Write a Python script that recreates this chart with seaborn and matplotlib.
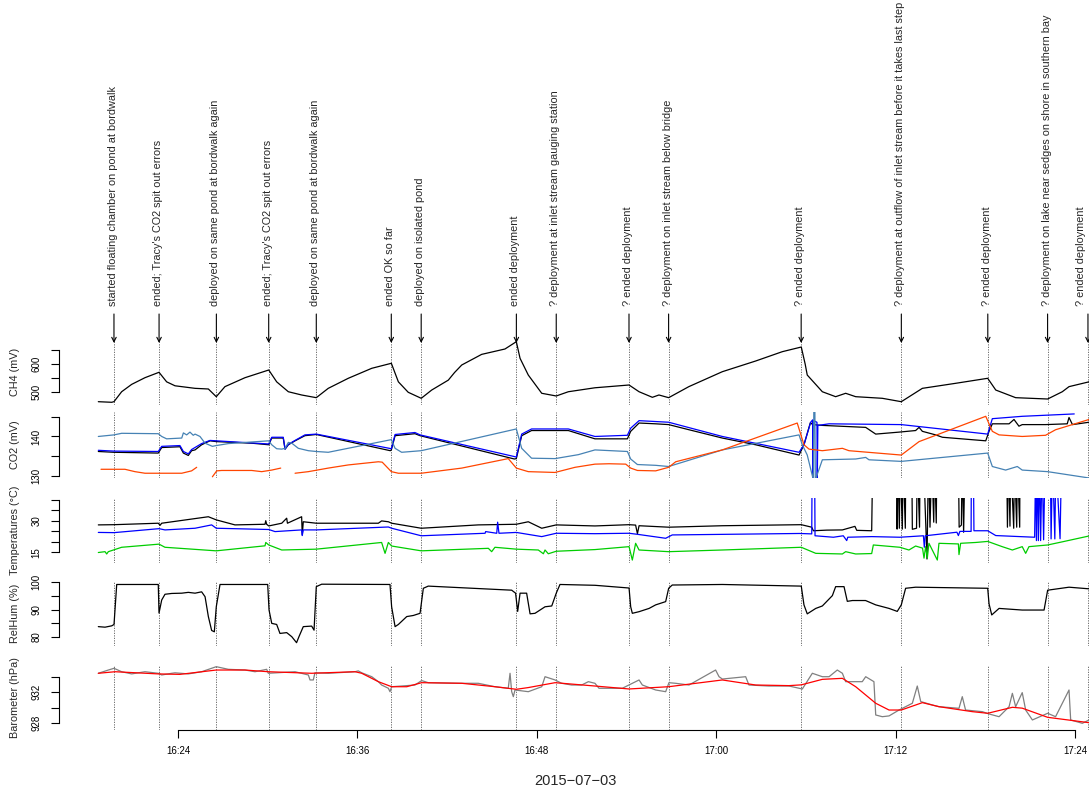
import numpy as np
import pandas as pd
import seaborn as sns
import matplotlib.pyplot as plt
import matplotlib.dates as mdates

nan = float('nan')
day = pd.Timestamp('2015-07-03 16:00:00')

# readings as (minutes after 16:00, value)
ch4 = [(18.67, 466.8), (19.57, 464.7), (19.72, 467.0), (20.23, 502.0), (20.90, 528.0),
       (21.79, 551.6), (22.73, 570.7), (23.24, 537.0), (23.80, 523.0), (25.14, 514.0),
       (26.03, 511.7), (26.56, 484.5), (27.14, 520.0), (28.48, 551.6), (30.07, 578.8),
       (30.60, 537.0), (31.38, 502.0), (32.27, 490.5), (33.25, 481.0), (34.05, 514.0),
       (35.39, 549.5), (36.96, 584.8), (38.27, 602.5), (38.74, 537.0), (39.40, 500.0),
       (40.27, 478.8), (40.97, 508.0), (42.08, 543.0), (42.50, 570.0), (42.98, 596.5),
       (44.31, 634.0), (45.87, 653.0), (46.63, 678.8), (46.88, 620.0), (47.43, 561.0),
       (48.33, 496.5), (49.30, 487.0), (50.11, 502.0), (51.89, 516.0), (54.17, 525.8),
       (54.84, 502.0), (55.73, 482.3), (56.17, 490.5), (56.82, 481.0), (58.17, 520.0),
       (60.41, 572.8), (62.64, 610.6), (64.42, 643.5), (65.69, 660.0), (65.95, 600.0),
       (66.09, 561.0), (67.10, 502.0), (67.99, 484.5), (68.66, 496.5), (69.33, 484.5),
       (71.11, 478.8), (72.38, 466.8), (73.79, 514.0), (76.02, 531.8), (78.16, 549.5),
       (78.70, 508.0), (80.03, 481.0), (82.17, 476.3), (83.15, 502.0), (83.60, 520.0),
       (84.94, 537.0)]

co2_black = [(18.67, 136.2), (19.72, 136.0), (22.68, 135.8), (22.91, 137.2), (24.13, 137.4),
             (24.36, 135.8), (24.69, 135.2), (24.91, 136.4), (25.14, 136.6), (25.58, 137.9),
             (26.14, 138.9), (26.56, 138.7), (28.93, 138.3), (30.07, 137.9), (30.27, 139.6),
             (31.04, 139.6), (31.16, 136.8), (31.38, 137.9), (31.83, 138.9), (32.49, 140.2),
             (33.25, 140.5), (38.20, 136.4), (38.27, 136.6), (38.52, 140.2), (39.85, 140.7),
             (40.19, 140.2), (46.50, 134.3), (46.63, 134.4), (46.99, 140.2), (47.65, 141.5),
             (50.11, 141.5), (51.89, 139.4), (54.06, 139.4), (54.28, 141.3), (54.84, 143.4),
             (55.95, 143.2), (56.82, 143.0), (58.18, 141.7), (60.41, 139.6), (62.64, 137.9),
             (65.54, 135.3), (65.87, 137.9), (66.30, 143.5), (66.45, 143.0), (67.10, 142.8),
             (70.00, 142.3), (70.67, 140.6), (72.23, 141.1), (73.34, 141.5), (73.57, 142.3),
             (73.79, 141.3), (74.68, 140.4), (75.13, 139.8), (78.03, 138.9), (78.25, 141.3),
             (78.47, 143.2), (79.59, 143.2), (79.92, 144.3), (80.25, 142.6), (80.47, 143.0),
             (82.03, 143.0), (83.48, 143.2), (83.60, 144.8), (83.83, 143.0), (84.94, 143.6)]

co2_blue = [(18.67, 136.5), (19.72, 136.3), (22.68, 136.2), (22.91, 137.5), (24.13, 137.7),
            (24.36, 136.2), (24.69, 135.6), (24.91, 136.7), (25.58, 138.2), (26.14, 139.0),
            (26.56, 138.9), (30.07, 138.1), (30.27, 139.8), (31.04, 139.8), (31.16, 136.8),
            (31.38, 138.0), (31.83, 139.0), (32.49, 140.4), (33.25, 140.6), (38.27, 136.9),
            (38.52, 140.5), (39.85, 141.0), (40.19, 140.4), (46.63, 134.8), (46.99, 140.6),
            (47.65, 141.9), (50.11, 141.9), (51.89, 140.0), (54.06, 140.3), (54.28, 142.1),
            (54.84, 144.0), (56.82, 143.6), (60.41, 140.0), (65.54, 136.0), (65.87, 137.9),
            (66.32, 143.6), (66.45, 144.2), (66.47, 129.0), (66.50, 144.0), (66.74, 143.6),
            (66.76, 129.0), (66.80, 142.8), (67.55, 143.2), (72.38, 143.0), (78.16, 140.6),
            (78.47, 144.5), (80.47, 145.1), (83.95, 145.7)]

co2_steelblue = [(18.67, 140.0), (19.72, 140.4), (20.23, 140.8), (22.68, 140.7), (22.91, 140.0),
                 (23.24, 139.4), (24.25, 139.6), (24.36, 140.9), (24.58, 140.4), (24.80, 141.1),
                 (25.02, 140.3), (25.14, 140.6), (25.47, 140.0), (25.81, 138.3), (26.30, 137.5),
                 (26.56, 137.7), (27.37, 138.2), (30.07, 138.9), (30.27, 137.9), (30.60, 136.9),
                 (30.94, 136.8), (31.16, 137.0), (31.38, 138.5), (31.61, 138.3), (32.05, 137.0),
                 (32.72, 136.4), (33.25, 136.2), (34.05, 136.0), (38.27, 139.2), (38.52, 137.0),
                 (38.96, 136.0), (40.27, 136.4), (46.63, 141.9), (46.99, 137.0), (47.65, 134.5),
                 (49.22, 134.4), (50.78, 135.4), (51.89, 136.6), (54.06, 136.2), (54.28, 134.3),
                 (54.73, 132.9), (55.95, 132.7), (56.82, 132.4), (60.41, 136.6), (65.54, 140.4),
                 (65.76, 137.9), (66.09, 135.3), (66.50, 129.0), (66.53, 147.0), (66.60, 147.0),
                 (66.63, 129.0), (67.10, 134.1), (69.33, 134.3), (70.00, 134.7), (70.22, 134.1),
                 (72.38, 133.7), (78.16, 135.8), (78.47, 132.4), (79.36, 131.5), (80.14, 132.4),
                 (80.47, 131.5), (82.17, 131.1), (84.94, 129.5)]

co2_orange = [(18.85, 131.7), (20.45, 131.7), (21.12, 131.1), (21.79, 130.7), (24.25, 130.7),
              (24.91, 131.3), (25.25, 132.2), (nan, nan),
              (26.30, 129.8), (26.59, 131.3), (26.92, 131.4), (28.93, 131.4), (29.60, 131.1),
              (30.27, 131.5), (30.87, 132.0), (nan, nan),
              (31.83, 130.7), (32.72, 131.1), (34.05, 132.0), (35.39, 132.8), (37.40, 133.6),
              (37.66, 133.5), (38.27, 131.1), (38.74, 130.7), (40.27, 130.7), (42.98, 132.0),
              (46.09, 134.4), (46.63, 132.0), (47.43, 131.1), (49.22, 130.9), (50.56, 132.2),
              (51.89, 133.0), (52.83, 133.1), (53.95, 133.0), (54.28, 132.0), (54.73, 131.4),
              (55.95, 131.3), (56.82, 132.2), (57.29, 133.6), (60.41, 136.6), (65.42, 143.4),
              (65.87, 137.9), (66.21, 136.8), (67.10, 136.4), (68.44, 137.0), (68.88, 136.4),
              (72.38, 135.3), (73.57, 138.7), (78.03, 145.1), (78.47, 141.3), (78.92, 140.4),
              (80.47, 140.0), (82.03, 140.3), (82.70, 141.7), (84.94, 144.3)]

# 60 = sensor off the top of the scale
temp_black = [(18.67, 28.1), (19.72, 28.2), (22.68, 28.9), (22.80, 27.9), (22.91, 28.9),
              (26.03, 32.0), (26.56, 30.5), (27.81, 28.1), (29.82, 28.4), (29.87, 30.1),
              (29.93, 28.4), (30.07, 27.6), (30.94, 28.9), (31.27, 31.3), (31.32, 28.9),
              (32.27, 32.0), (32.31, 23.3), (32.38, 29.6), (33.25, 28.9), (37.40, 28.9),
              (37.62, 30.0), (38.07, 29.6), (38.29, 28.9), (40.27, 26.5), (44.09, 28.1),
              (46.63, 28.4), (47.43, 29.6), (48.33, 26.5), (49.30, 28.1), (51.89, 27.6),
              (54.17, 28.2), (54.61, 28.0), (54.73, 23.9), (54.84, 27.7), (56.82, 27.0),
              (60.41, 27.7), (65.69, 28.2), (66.39, 27.0), (66.50, 25.3), (67.39, 25.6),
              (68.44, 25.7), (69.28, 27.4), (69.40, 25.5), (70.40, 25.3), (70.47, 60),
              (72.07, 60), (72.10, 26.1), (72.15, 60), (72.25, 26.5), (72.30, 60),
              (72.45, 26.1), (72.50, 60), (72.65, 26.5), (72.68, 60),
              (73.08, 60), (73.12, 26.0), (73.40, 26.5), (73.45, 60), (73.60, 27.0), (73.64, 60),
              (73.86, 60), (74.10, 11.8), (74.20, 60), (74.30, 27.0), (74.42, 60),
              (74.55, 29.4), (74.60, 60), (74.72, 29.0), (74.76, 60),
              (76.20, 60), (76.25, 27.0), (76.40, 28.0), (76.45, 60), (76.55, 24.6), (76.64, 60),
              (79.43, 60), (79.48, 27.0), (79.55, 60), (79.65, 27.5), (79.70, 60),
              (79.90, 26.5), (79.95, 60), (80.10, 27.0), (80.15, 60), (80.30, 27.0),
              (80.32, 60), (84.94, 60)]

temp_blue = [(18.67, 24.5), (19.72, 24.4), (22.73, 26.3), (23.13, 25.7), (25.14, 26.5),
             (26.25, 28.1), (26.56, 26.5), (30.07, 25.9), (30.49, 24.9), (32.27, 25.7),
             (32.31, 23.0), (32.38, 25.7), (33.25, 25.7), (38.07, 27.1), (38.29, 26.5),
             (40.27, 22.9), (44.54, 24.1), (44.58, 24.9), (45.32, 24.1), (45.38, 29.4),
             (45.47, 24.1), (46.63, 24.5), (48.33, 22.5), (49.30, 24.1), (51.89, 23.9),
             (54.17, 24.1), (54.73, 23.6), (56.62, 21.7), (57.06, 23.3), (65.58, 24.0),
             (66.39, 23.8), (66.42, 60), (66.58, 60), (66.61, 22.9), (67.84, 22.2),
             (68.50, 22.9), (68.73, 20.6), (68.80, 22.2), (70.40, 22.5), (72.29, 22.2),
             (73.86, 22.9), (73.92, 17.4), (73.98, 22.9), (76.10, 24.6), (76.20, 23.0),
             (76.30, 25.0), (77.05, 25.0), (77.07, 60), (77.20, 60), (77.24, 25.3),
             (78.16, 25.3), (78.70, 23.0), (81.30, 22.2), (81.37, 60), (81.42, 20.6),
             (81.48, 60), (81.55, 20.6), (81.62, 60), (81.70, 20.6), (81.80, 60),
             (81.90, 21.0), (82.00, 60), (82.35, 60), (82.40, 21.4), (82.50, 60),
             (82.65, 21.4), (82.72, 60), (83.00, 21.5), (83.10, 60)]

temp_green = [(18.67, 14.9), (19.12, 15.3), (19.23, 14.2), (19.34, 15.3), (20.23, 17.4),
              (22.73, 18.9), (23.13, 17.4), (26.56, 15.7), (29.82, 18.1), (29.87, 19.7),
              (30.07, 18.5), (30.94, 16.1), (33.25, 16.5), (37.62, 19.7), (37.85, 14.5),
              (38.07, 19.7), (38.29, 18.0), (40.27, 15.7), (44.76, 16.9), (44.98, 15.3),
              (45.20, 17.4), (46.63, 16.5), (48.10, 16.1), (48.44, 14.3), (48.55, 16.1),
              (48.77, 14.3), (49.30, 15.5), (51.89, 16.3), (54.17, 17.7), (54.39, 11.3),
              (54.61, 19.3), (54.84, 16.1), (56.82, 15.3), (60.41, 16.1), (65.69, 17.4),
              (66.66, 14.5), (68.44, 14.2), (68.66, 15.3), (69.33, 14.2), (70.40, 14.4),
              (70.51, 18.5), (72.29, 17.4), (72.89, 16.1), (73.34, 18.0), (73.80, 17.0),
              (73.90, 12.2), (74.01, 17.7), (74.12, 12.2), (74.23, 19.3), (74.79, 11.3),
              (74.90, 19.3), (76.20, 19.0), (76.24, 13.9), (76.35, 19.3), (77.36, 19.7),
              (78.16, 20.2), (79.13, 17.7), (79.81, 16.1), (80.47, 17.7), (80.70, 14.5),
              (80.92, 17.7), (82.17, 18.5), (83.15, 20.0), (84.94, 22.8)]

relhum = [(18.67, 83.7), (19.12, 83.5), (19.57, 84.0), (19.72, 84.5), (19.90, 99.2),
          (22.68, 99.2), (22.73, 88.7), (22.91, 93.5), (23.13, 95.6), (23.58, 95.9),
          (24.25, 96.0), (24.69, 96.3), (25.14, 96.0), (25.58, 96.5), (25.81, 94.7),
          (26.03, 87.4), (26.25, 82.3), (26.43, 81.8), (26.56, 91.0), (26.81, 99.2),
          (30.00, 99.2), (30.09, 89.8), (30.27, 84.9), (30.60, 84.5), (30.82, 81.2),
          (31.27, 81.5), (31.61, 80.0), (31.93, 77.8), (32.09, 80.0), (32.38, 83.7),
          (32.94, 83.9), (33.10, 82.4), (33.25, 98.4), (33.61, 99.3), (38.18, 99.2),
          (38.29, 91.0), (38.52, 83.7), (38.74, 84.5), (39.30, 87.4), (39.74, 87.8),
          (40.19, 88.6), (40.41, 97.8), (40.74, 98.6), (46.32, 97.1), (46.58, 96.0),
          (46.72, 89.3), (46.88, 96.0), (47.32, 96.0), (47.55, 88.4), (47.88, 88.6),
          (48.55, 91.0), (49.00, 91.3), (49.30, 96.0), (49.55, 99.2), (51.89, 98.9),
          (54.17, 97.9), (54.28, 91.0), (54.39, 88.6), (54.84, 89.2), (55.51, 90.4),
          (55.95, 91.7), (56.62, 92.9), (56.82, 97.8), (57.06, 99.0), (60.41, 99.2),
          (65.69, 98.6), (65.87, 91.7), (66.09, 88.4), (66.66, 90.4), (67.10, 91.3),
          (67.77, 95.1), (67.99, 98.4), (68.55, 98.4), (68.77, 93.0), (69.11, 93.3),
          (69.99, 93.3), (70.67, 91.7), (71.56, 90.4), (72.11, 89.3), (72.38, 91.7),
          (72.67, 97.8), (73.34, 98.2), (78.16, 97.8), (78.25, 92.1), (78.43, 88.0),
          (78.92, 90.4), (80.47, 89.8), (81.93, 89.8), (82.17, 97.1), (83.60, 98.2),
          (84.94, 97.6)]

baro_raw = [(18.67, 934.44), (19.34, 934.86), (19.72, 935.08), (20.23, 934.64), (20.90, 934.36),
            (21.79, 934.64), (22.68, 934.44), (22.91, 934.22), (23.58, 934.44), (23.80, 934.50),
            (24.69, 934.36), (25.58, 934.64), (26.56, 935.29), (27.37, 934.95), (28.48, 934.86),
            (29.15, 934.64), (29.93, 934.95), (30.04, 934.44), (31.83, 934.64), (32.72, 934.22),
            (32.83, 933.58), (33.05, 933.58), (33.16, 934.50), (34.05, 934.44), (35.84, 934.64),
            (36.06, 934.75), (36.29, 934.50), (36.96, 934.00), (37.40, 933.36), (37.62, 932.93),
            (38.07, 932.51), (38.18, 932.07), (38.29, 932.71), (38.96, 932.80), (39.85, 932.93),
            (40.30, 933.50), (40.74, 933.23), (42.98, 933.15), (44.09, 933.15), (45.20, 932.71),
            (46.09, 932.51), (46.21, 934.44), (46.32, 932.07), (46.43, 931.43), (46.54, 932.29),
            (47.43, 932.07), (48.33, 932.71), (48.55, 934.00), (49.22, 933.58), (49.66, 933.15),
            (50.33, 932.93), (51.00, 932.93), (51.45, 933.36), (51.89, 933.15), (52.16, 932.51),
            (53.72, 932.51), (54.84, 933.58), (55.06, 932.93), (55.95, 932.29), (56.62, 932.07),
            (56.84, 933.23), (57.29, 933.15), (58.18, 932.93), (59.96, 934.86), (60.19, 934.00),
            (60.41, 933.70), (61.97, 934.00), (62.19, 932.93), (63.53, 932.80), (64.87, 932.80),
            (65.76, 932.42), (66.43, 934.44), (67.10, 934.00), (67.55, 934.00), (68.10, 934.86),
            (68.44, 934.44), (68.66, 933.36), (69.77, 933.36), (70.00, 934.00), (70.55, 933.36),
            (70.67, 929.07), (71.11, 928.85), (71.56, 928.95), (72.23, 929.71), (73.12, 930.58),
            (73.45, 932.80), (73.68, 930.80), (74.45, 930.36), (74.90, 930.14), (76.24, 929.93),
            (76.46, 931.43), (76.68, 929.71), (77.80, 929.50), (78.25, 929.20), (78.92, 928.85),
            (79.59, 930.14), (79.81, 931.86), (80.03, 930.14), (80.47, 931.95), (80.70, 929.71),
            (81.15, 928.43), (82.17, 929.29), (82.70, 928.85), (83.60, 932.29), (83.71, 928.43),
            (84.49, 928.00), (84.94, 928.43)]

baro_smooth = [(18.67, 934.44), (19.79, 934.64), (22.68, 934.36), (24.13, 934.30), (26.56, 934.86),
               (28.48, 934.86), (30.04, 934.64), (32.94, 934.44), (35.84, 934.64), (36.29, 934.44),
               (37.40, 933.36), (38.29, 932.71), (39.30, 932.71), (40.30, 933.23), (42.98, 933.15),
               (45.20, 932.71), (46.63, 932.38), (47.43, 932.60), (49.22, 933.23), (51.89, 932.80),
               (54.17, 932.42), (56.82, 932.71), (60.41, 933.58), (62.64, 932.93), (64.87, 932.85),
               (65.69, 932.95), (67.10, 933.66), (68.44, 933.79), (69.33, 932.71), (70.67, 930.58),
               (71.56, 929.71), (72.38, 929.71), (73.79, 930.66), (74.90, 930.14), (77.13, 929.50),
               (78.16, 929.29), (79.81, 930.06), (80.47, 929.95), (82.17, 928.77), (84.94, 928.08)]

event_clock = ['16:19:43', '16:22:44', '16:26:34', '16:30:04', '16:33:15', '16:38:16',
               '16:40:16', '16:46:38', '16:49:18', '16:54:10', '16:56:49', '17:05:41',
               '17:12:23', '17:18:10', '17:22:10', '17:24:52']
event_notes = ['started floating chamber on pond at bordwalk',
               "ended; Tracy's CO2 spit out errors",
               'deployed on same pond at bordwalk again',
               "ended; Tracy's CO2 spit out errors",
               'deployed on same pond at bordwalk again',
               'ended OK so far',
               'deployed on isolated pond',
               'ended deployment',
               '? deployment at inlet stream gauging station',
               '? ended deployment',
               '? deployment on inlet stream below bridge',
               '? ended deployment',
               '? deployment at outflow of inlet stream before it takes last step',
               '? ended deployment',
               '? deployment on lake near sedges on shore in southern bay',
               '? ended deployment']


def stamp(minutes):
    return day + pd.to_timedelta(np.asarray(minutes, dtype=float), unit='min')


def frame(series):
    parts = []
    for name, readings in series.items():
        mins, vals = np.array(readings, dtype=float).T
        d = pd.DataFrame({'time': stamp(mins), 'value': vals, 'series': name,
                          'seg': np.cumsum(np.isnan(vals))})
        parts.append(d.dropna())
    return pd.concat(parts, ignore_index=True)


sns.set_style('white')
plt.rcParams['font.family'] = ['Liberation Sans', 'DejaVu Sans']

W, H = 1089, 795
LEFT, RIGHT = 59, 1091
fig = plt.figure(figsize=(W / 100, H / 100), dpi=100)

events = [pd.Timestamp('2015-07-03 ' + c) for c in event_clock]
x_lo, x_hi = day + pd.Timedelta(minutes=16.04), day + pd.Timedelta(minutes=85.07)

panels = [
    ('CH4 (mV)', 339, 405, (500, 392.3, 600, 364.0), [500, 550, 600, 650], [500, 600],
     {'ch4': ch4}, {'ch4': 'black'}),
    ('CO2 (mV)', 412, 478, (130, 476.0, 145, 416.7), [130, 135, 140, 145], [130, 140],
     {'k': co2_black, 'b': co2_blue, 's': co2_steelblue, 'o': co2_orange},
     {'k': 'black', 'b': '#0000FF', 's': '#4682B4', 'o': '#FF4500'}),
    ('Temperatures (°C)', 498, 563, (15, 552.3, 40, 500.0), [15, 20, 25, 30, 35, 40], [15, 30],
     {'k': temp_black, 'b': temp_blue, 'g': temp_green},
     {'k': 'black', 'b': '#0000FF', 'g': '#00CD00'}),
    ('RelHum (%)', 581, 646, (80, 636.7, 100, 582.3), [80, 85, 90, 95, 100], [80, 90, 100],
     {'rh': relhum}, {'rh': 'black'}),
    ('Barometer (hPa)', 665, 729.5, (928, 723.3, 934, 676.7), [928, 930, 932, 934], [928, 932],
     {'raw': baro_raw, 'smooth': baro_smooth}, {'raw': '#808080', 'smooth': '#FF0000'}),
]

axes = []
for label, top, bottom, ref, ticks, shown, series, colours in panels:
    ax = fig.add_axes([LEFT / W, 1 - bottom / H, (RIGHT - LEFT) / W, (bottom - top) / H])
    ax.patch.set_alpha(0)
    sns.lineplot(data=frame(series), x='time', y='value', hue='series', units='seg',
                 estimator=None, palette=colours, hue_order=list(series), lw=0.9,
                 legend=False, ax=ax)
    for t in events:
        ax.axvline(t, color='0.35', lw=0.6, ls=(0, (1.5, 1.5)), zorder=1)
    v0, y0, v1, y1 = ref
    s = (y0 - y1) / (v1 - v0)
    ax.set_ylim(v0 - (bottom - y0) / s, v1 + (y1 - top) / s)
    ax.set_xlim(x_lo, x_hi)
    ax.set_xlabel('')
    ax.set_ylabel('')
    for side in ('top', 'right', 'bottom'):
        ax.spines[side].set_visible(False)
    ax.spines['left'].set_color('black')
    ax.spines['left'].set_linewidth(0.8)
    ax.spines['left'].set_bounds(ticks[0], ticks[-1])
    ax.set_yticks(ticks)
    ax.set_yticklabels([str(t) if t in shown else '' for t in ticks],
                       rotation=90, va='center', fontsize=7)
    ax.tick_params(axis='y', direction='out', length=6, width=0.8, pad=6.5,
                   colors='black', left=True)
    ax.set_xticks([])
    fig.text(14.7 / W, 1 - (top + bottom) / 2 / H, label, rotation=90,
             ha='center', va='center', fontsize=7.8)
    axes.append(ax)

# time axis on the bottom panel only
ax = axes[-1]
hours = [day + pd.Timedelta(minutes=m) for m in (24, 36, 48, 60, 72, 84)]
ax.set_xticks(hours)
ax.xaxis.set_major_formatter(mdates.DateFormatter('%H:%M'))
ax.spines['bottom'].set_visible(True)
ax.spines['bottom'].set_color('black')
ax.spines['bottom'].set_linewidth(0.8)
ax.spines['bottom'].set_bounds(mdates.date2num(hours[0]), mdates.date2num(hours[-1]))
ax.tick_params(axis='x', direction='out', length=6, width=0.8, pad=6,
               labelsize=7, colors='black', bottom=True)
fig.text(575 / W, 1 - 781 / H, '2015\u221207\u221203', ha='center', va='center', fontsize=10.5)

# field notes with arrows above the CH4 panel
top_ax = axes[0]
for i, (t, note) in enumerate(zip(events, event_notes)):
    x = mdates.date2num(t)
    top_ax.annotate('', xy=(x, 1 - 343 / H), xytext=(x, 1 - 314 / H),
                    xycoords=('data', 'figure fraction'), textcoords=('data', 'figure fraction'),
                    arrowprops=dict(arrowstyle='->', color='black', lw=0.8,
                                    shrinkA=0, shrinkB=0, mutation_scale=8),
                    annotation_clip=False)
    # the last note sits at the figure edge: nudge it inwards so it stays readable
    shift = -7 if i == len(events) - 1 else -1
    top_ax.annotate(note, xy=(x, 1 - 306 / H), xycoords=('data', 'figure fraction'),
                    xytext=(shift, 0), textcoords='offset pixels',
                    rotation=90, ha='center', va='bottom', fontsize=7.8,
                    annotation_clip=False)

fig.savefig('out.png', dpi=100)
